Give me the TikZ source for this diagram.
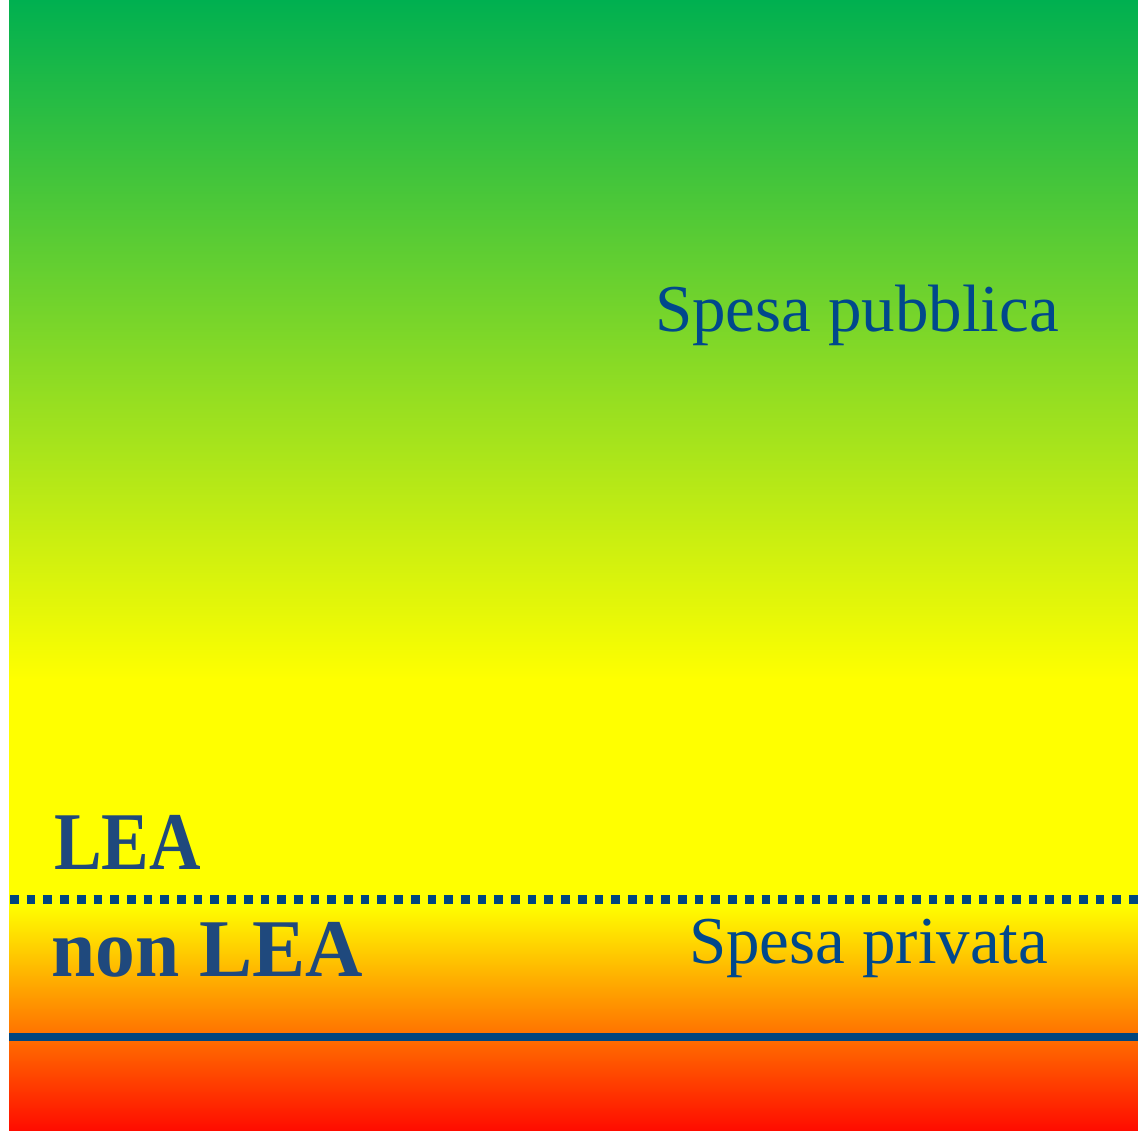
\documentclass[tikz,border=0pt]{standalone}
\usepackage{fontspec}
\usepackage{graphicx}
\setmainfont{Liberation Serif}
\definecolor{cgreen}{RGB}{0,176,80}
\definecolor{cyellow}{RGB}{255,255,0}
\definecolor{corange}{RGB}{255,112,0}
\definecolor{cred}{RGB}{255,12,0}
\definecolor{leablue}{RGB}{31,73,125}
\definecolor{spesablue}{RGB}{0,72,140}
\definecolor{lineblue}{RGB}{0,70,127}
\pgfdeclareverticalshading{bgshade}{100bp}{%
  color(0bp)=(cred); color(25bp)=(cred); color(29.16bp)=(corange);
  color(34.96bp)=(cyellow); color(44.91bp)=(cyellow);
  color(75bp)=(cgreen); color(100bp)=(cgreen)}
\tikzset{
  reglabel/.style={anchor=base west, inner sep=0pt, text=spesablue,
    font=\fontsize{67}{80}\selectfont},
  boldlabel/.style={anchor=base west, inner sep=0pt, text=leablue,
    font=\fontsize{82}{96}\selectfont\bfseries},
}
\begin{document}
\begin{tikzpicture}[x=1pt,y=-1pt]
\useasboundingbox (0,0) rectangle (1138,1137);
\fill[white] (0,0) rectangle (1138,1137);
\shade[shading=bgshade] (9,0) rectangle (1138,1130);
\coordinate (dl) at (10,899.5);
\coordinate (dr) at (1138,899.5);
\draw[lineblue, line width=9pt, line cap=butt, dash pattern=on 8.7pt off 8pt] (dl) -- (dr);
\coordinate (sl) at (9,1036.7);
\coordinate (sr) at (1138,1036.7);
\draw[lineblue, line width=8pt] (sl) -- (sr);
\node[reglabel] (pub) at (655,331) {Spesa pubblica};
\node[reglabel] (priv) at (689,963) {Spesa privata};
\node[boldlabel] (lea) at (54,869) {\scalebox{0.87}[1]{LEA}};
\node[boldlabel] (nonlea) at (51,976) {\scalebox{0.97}[1]{non LEA}};
\end{tikzpicture}
\end{document}
